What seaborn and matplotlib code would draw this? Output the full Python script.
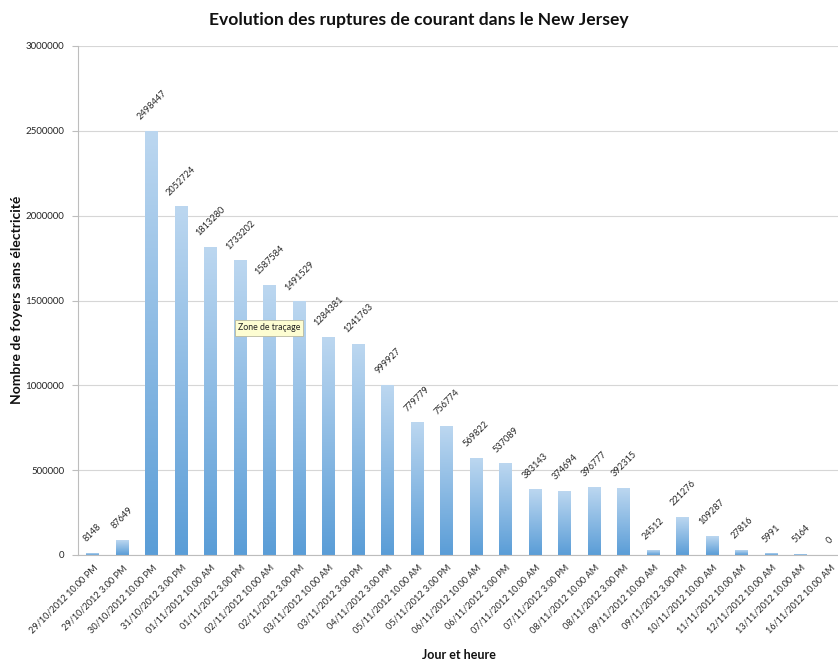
import numpy as np
import pandas as pd
import matplotlib
matplotlib.use("Agg")
import matplotlib.pyplot as plt
from matplotlib.colors import LinearSegmentedColormap
import seaborn as sns

# Relevés : date et heure du relevé, foyers privés d'électricité
jour_heure = [
    "29/10/2012 10.00 PM", "29/10/2012 3.00 PM", "30/10/2012 10.00 PM",
    "31/10/2012 3.00 PM", "01/11/2012 10.00 AM", "01/11/2012 3.00 PM",
    "02/11/2012 10.00 AM", "02/11/2012 3.00 PM", "03/11/2012 10.00 AM",
    "03/11/2012 3.00 PM", "04/11/2012 3.00 PM", "05/11/2012 10.00 AM",
    "05/11/2012 3.00 PM", "06/11/2012 10.00 AM", "06/11/2012 3.00 PM",
    "07/11/2012 10.00 AM", "07/11/2012 3.00 PM", "08/11/2012 10.00 AM",
    "08/11/2012 3.00 PM", "09/11/2012 10.00 AM", "09/11/2012 3.00 PM",
    "10/11/2012 10.00 AM", "11/11/2012 10.00 AM", "12/11/2012 10.00 AM",
    "13/11/2012 10.00 AM", "16/11/2012 10.00 AM",
]
foyers = [
    8148, 87649, 2498447, 2052724, 1813280, 1733202, 1587584, 1491529,
    1284381, 1241763, 999927, 779779, 756774, 569822, 537089, 383143,
    374694, 396777, 392315, 24512, 221276, 109287, 27816, 5991, 5164, 0,
]
y_ticks = [0, 500000, 1000000, 1500000, 2000000, 2500000, 3000000]

df = pd.DataFrame({"jour": jour_heure, "foyers": foyers})

sns.set_theme(style="white")
plt.rcParams["font.family"] = ["Lato", "DejaVu Sans"]

W, H = 838, 661
fig = plt.figure(figsize=(W / 100, H / 100), dpi=100)
n = len(jour_heure)
slot = 29.5
left_px, top_px, bottom_px = 78, 46, 555
ax = fig.add_axes([left_px / W, 1 - bottom_px / H,
                   n * slot / W, (bottom_px - top_px) / H])

sns.barplot(data=df, x="jour", y="foyers", ax=ax, width=0.43,
            color="#5b9fd8", saturation=1, zorder=2)

# vertical gradient inside each bar: light at the top, darker at the base
cmap = LinearSegmentedColormap.from_list("barres", ["#5a9dd7", "#bcd7f0"])
grad = np.linspace(0, 1, 256).reshape(-1, 1)
for p in list(ax.patches):
    x0, y0 = p.get_x(), p.get_y()
    w, h = p.get_width(), p.get_height()
    if h <= 0:
        p.set_visible(False)
        continue
    ax.imshow(grad, extent=[x0, x0 + w, y0, y0 + h], origin="lower",
              aspect="auto", cmap=cmap, zorder=2, interpolation="bicubic")
    p.set_facecolor("none")
    p.set_edgecolor("none")

ax.set_xlim(-0.5, n - 0.5)
ax.set_ylim(0, 3000000)
ax.set_yticks(y_ticks)
ax.set_yticklabels([str(v) for v in y_ticks])

# value labels above each bar
for i, v in enumerate(foyers):
    ax.annotate(str(v), (i, v), xytext=(0, 7), textcoords="offset points",
                rotation=45, ha="center", va="bottom", fontsize=6.6,
                color="#262626", zorder=4)

# axes styling
ax.yaxis.grid(True, color="#d6d6d6", linewidth=0.8, zorder=0)
ax.set_axisbelow(True)
for s in ["top", "right"]:
    ax.spines[s].set_visible(False)
for s in ["left", "bottom"]:
    ax.spines[s].set_color("#bdbdbd")
    ax.spines[s].set_linewidth(0.8)

ax.set_xticks(range(n))
ax.set_xticklabels(jour_heure, rotation=45, ha="right",
                   rotation_mode="anchor", fontsize=6.6, color="#262626")
ax.set_xticks(np.arange(-0.5, n, 1), minor=True)
ax.tick_params(axis="x", which="major", length=0, pad=6)
ax.tick_params(axis="x", which="minor", length=4, width=0.8,
               color="#bdbdbd", direction="out")
ax.tick_params(axis="y", which="major", length=4, width=0.8,
               color="#bdbdbd", direction="out", labelsize=7,
               labelcolor="#262626", pad=6, left=True)

ax.set_xlabel("")
ax.set_ylabel("")
fig.text(459 / W, 1 - 655 / H, "Jour et heure", ha="center", va="center",
         fontsize=9, fontweight="bold", color="#111111")
fig.text(17 / W, 1 - 300 / H, "Nombre de foyers sans électricité",
         ha="center", va="center", rotation=90, fontsize=10,
         fontweight="bold", color="#111111")

fig.text(419 / W, 1 - 20 / H, "Evolution des ruptures de courant dans le New Jersey",
         ha="center", va="center", fontsize=12.6, fontweight="bold",
         color="#111111")

# hover tooltip of the plot area
fig.text(269 / W, 1 - 328 / H, "Zone de traçage", ha="center", va="center",
         fontsize=6.3, color="#222222", zorder=10,
         bbox=dict(boxstyle="square,pad=0.35", facecolor="#fdfdd2",
                   edgecolor="#b8b8a0", linewidth=0.6))

fig.savefig("out.png", dpi=100)
